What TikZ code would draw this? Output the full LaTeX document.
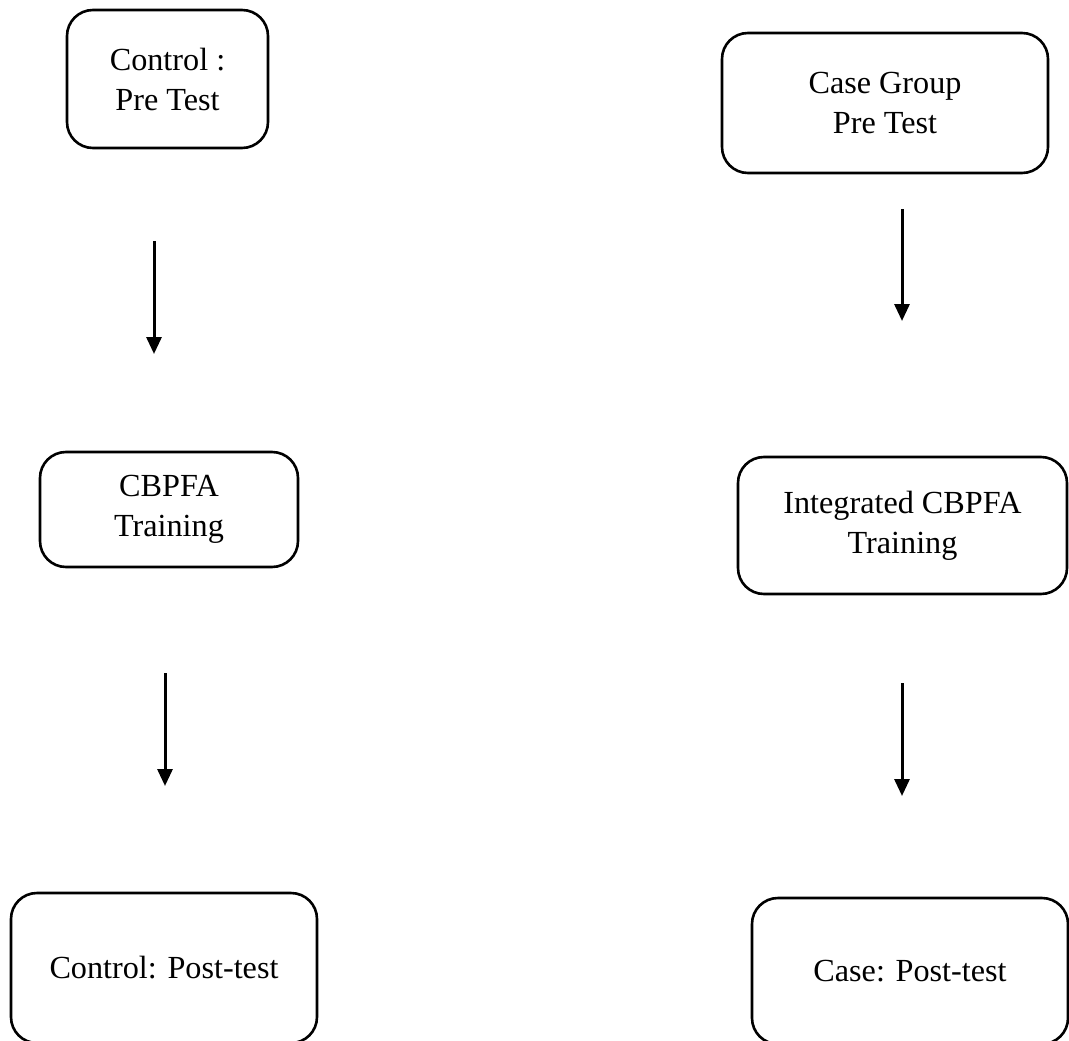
\documentclass[tikz,border=0pt]{standalone}
\usepackage{fontspec}
\setmainfont{Liberation Serif}
\usetikzlibrary{arrows.meta}
\begin{document}
\begin{tikzpicture}[x=1pt,y=-1pt,
  stage/.style={draw=black,line width=2.6pt,rounded corners=26pt,align=center,
    inner sep=0pt,font=\fontsize{32.2}{40}\selectfont},
  arr/.style={line width=3pt,-{Triangle[length=17pt,width=15pt]}}]
\useasboundingbox (0,0) rectangle (1069,1041);
\clip (0,0) rectangle (1069,1041);
\node[stage,minimum width=201pt,minimum height=138pt] (cpre) at (167.5,79) {Control :\\Pre Test};
\node[stage,minimum width=326pt,minimum height=140pt] (gpre) at (885,103) {Case Group\\Pre Test};
\node[stage,minimum width=258pt,minimum height=115pt] (ctr) at (169,509.5) {CBPFA\\Training};
\node[stage,minimum width=329pt,minimum height=137pt] (gtr) at (902.5,525.5) {Integrated CBPFA\\Training};
\node[stage,minimum width=306pt,minimum height=150pt] (cpost) at (164,968) {Control: Post-test};
\node[stage,minimum width=316pt,minimum height=146pt] (gpost) at (910,971) {Case: Post-test};
\coordinate (a1s) at (154,241); \coordinate (a1e) at (154,354);
\coordinate (a2s) at (902,209); \coordinate (a2e) at (902,321);
\coordinate (a3s) at (165,673); \coordinate (a3e) at (165,786);
\coordinate (a4s) at (902,683); \coordinate (a4e) at (902,796);
\draw[arr] (a1s) -- (a1e);
\draw[arr] (a2s) -- (a2e);
\draw[arr] (a3s) -- (a3e);
\draw[arr] (a4s) -- (a4e);
\end{tikzpicture}
\end{document}
